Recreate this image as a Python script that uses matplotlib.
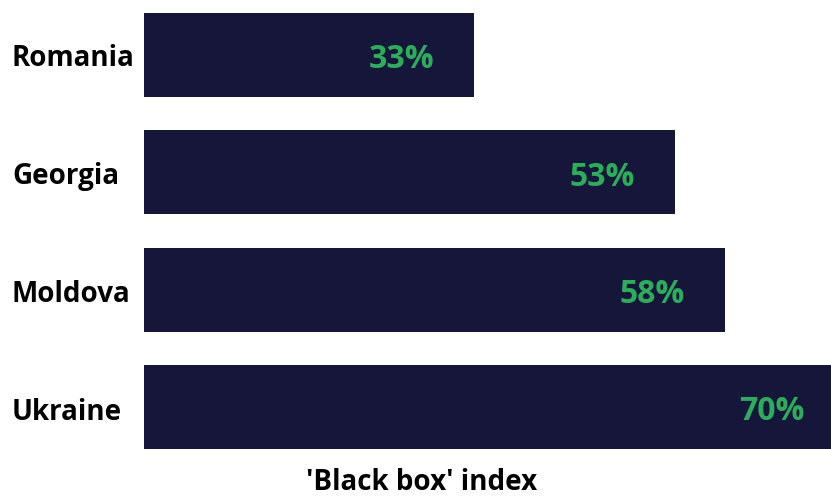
import numpy as np
import matplotlib.pyplot as plt

# datos
paises = ["Romania", "Georgia", "Moldova", "Ukraine"]
valores = [33, 53, 58, 70]
etiquetas = ["33%", "53%", "58%", "70%"]

azul = "#16163a"
verde = "#2aae5a"
plt.rcParams['font.family'] = ['Open Sans', 'DejaVu Sans']

fig = plt.figure(figsize=(8.31, 4.98), dpi=100)
ax = fig.add_axes([144/831, 49/498, 687/831, 436/498])

y = np.arange(len(paises))
ax.barh(y, valores, height=0.716, color=azul)
ax.set_xlim(0, 68.6)
ax.set_ylim(3.358, -0.358)

for i, v in enumerate(valores):
    ax.text(v - 4.0, i + 0.04, etiquetas[i], ha='right', va='center',
            fontsize=23, fontweight='bold', color=verde)
    fig.text(12/831, 1 - (59 + i*117.7)/498, paises[i], ha='left', va='center',
             fontsize=20, fontweight='bold', color='black')

fig.text(422/831, 8/498, "'Black box' index", ha='center', va='baseline',
         fontsize=20, fontweight='bold', color='black')

ax.axis('off')
fig.savefig("out.png", dpi=100)
